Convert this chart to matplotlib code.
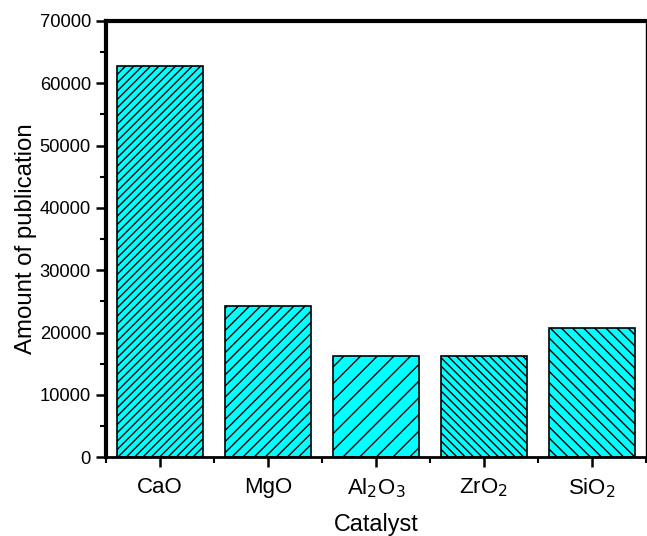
import matplotlib.pyplot as plt
from matplotlib.ticker import MultipleLocator, FixedLocator

plt.rcParams["font.family"] = ["Liberation Sans", "DejaVu Sans"]
plt.rcParams["hatch.linewidth"] = 1.0

# Datos
catalizadores = ["CaO", "MgO", r"Al$_2$O$_3$", r"ZrO$_2$", r"SiO$_2$"]
publicaciones = [62700, 24200, 16200, 16200, 20700]
tramas = ["////", "///", "//", "\\\\\\\\", "\\\\\\"]

fig = plt.figure(figsize=(6.47, 5.36), dpi=100)
ax = fig.add_axes([0.164, 0.147, 0.834, 0.814])

x = range(len(catalizadores))
barras = ax.bar(x, publicaciones, width=0.8, color="#00FFFF",
                edgecolor="black", linewidth=1.2)
for b, h in zip(barras, tramas):
    b.set_hatch(h)

ax.set_xlim(-0.5, len(catalizadores) - 0.5)
ax.set_ylim(0, 70000)
ax.set_xticks(list(x))
ax.set_xticklabels(catalizadores)
ax.xaxis.set_minor_locator(FixedLocator([i + 0.5 for i in range(-1, len(catalizadores))]))
ax.yaxis.set_major_locator(MultipleLocator(10000))
ax.yaxis.set_minor_locator(MultipleLocator(5000))

ax.tick_params(axis="both", which="major", direction="out", length=7, width=1.8)
ax.tick_params(axis="both", which="minor", direction="out", length=4, width=1.5)
ax.tick_params(axis="y", which="major", labelsize=13.2, pad=4)
ax.tick_params(axis="x", which="major", labelsize=16, pad=7)

ax.spines["left"].set_linewidth(3)
ax.spines["top"].set_linewidth(3)
ax.spines["bottom"].set_linewidth(2)
ax.spines["right"].set_linewidth(1)

ax.set_xlabel("Catalyst", fontsize=16.8, labelpad=9)
ax.set_ylabel("Amount of publication", fontsize=17.3, labelpad=2)

plt.savefig("out.png", dpi=100)
